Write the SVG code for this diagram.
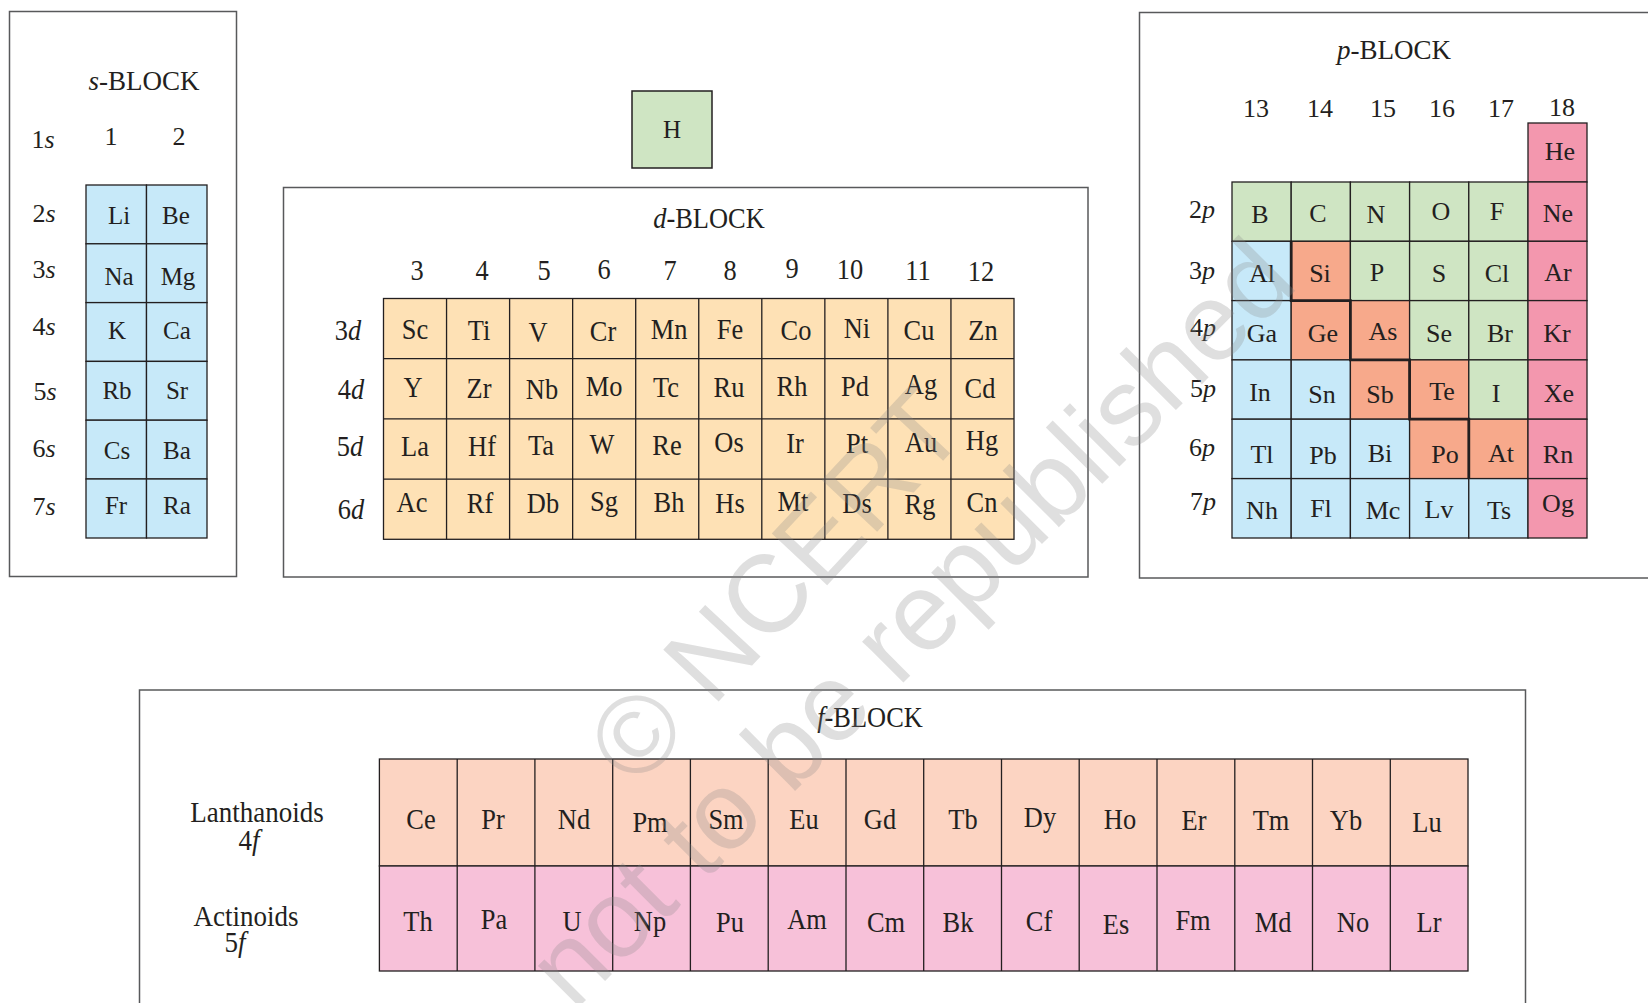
<svg xmlns="http://www.w3.org/2000/svg" width="1648" height="1003" viewBox="0 0 1648 1003">
<style>
text{font-family:"Liberation Serif","Times New Roman",serif;fill:#231f20}
.t{font-size:25px;text-anchor:middle}
.tp{font-size:26px;text-anchor:middle}
.c{font-size:30px;text-anchor:middle}
.lab{font-size:26px;text-anchor:middle}
.ttl{font-size:27px;text-anchor:middle}
.it{font-style:italic}
.box{fill:none;stroke:#58595b;stroke-width:1.5}
.cell rect{stroke:#231f20;stroke-width:1.3}
.sb{fill:#c7e9f9}
.gr{fill:#cfe5c3}
.dd{fill:#fee1b5}
.sa{fill:#f7a98b}
.pk{fill:#f397ae}
.la{fill:#fcd4c2}
.ac{fill:#f7c1d9}
.wm{font-family:"Liberation Sans",Arial,sans-serif;font-size:110px;fill:#8a8a8a;fill-opacity:.27;text-anchor:middle}
</style>

<!-- s-block -->
<g id="s-block">
<rect class="box" x="9.5" y="11.5" width="227" height="565"/>
<text class="ttl" x="144" y="90"><tspan class="it">s</tspan>-BLOCK</text>
<text class="lab" x="111" y="145">1</text>
<text class="lab" x="179" y="145">2</text>
<text class="lab" x="43" y="148">1<tspan class="it">s</tspan></text>
<text class="lab" x="44" y="222">2<tspan class="it">s</tspan></text>
<text class="lab" x="44" y="278">3<tspan class="it">s</tspan></text>
<text class="lab" x="44" y="335">4<tspan class="it">s</tspan></text>
<text class="lab" x="45" y="400">5<tspan class="it">s</tspan></text>
<text class="lab" x="44" y="457">6<tspan class="it">s</tspan></text>
<text class="lab" x="44" y="515">7<tspan class="it">s</tspan></text>
<g class="cell">
<rect class="sb" x="86" y="185" width="60.5" height="58.8"/><rect class="sb" x="146.5" y="185" width="60.5" height="58.8"/>
<rect class="sb" x="86" y="243.8" width="60.5" height="58.8"/><rect class="sb" x="146.5" y="243.8" width="60.5" height="58.8"/>
<rect class="sb" x="86" y="302.6" width="60.5" height="58.8"/><rect class="sb" x="146.5" y="302.6" width="60.5" height="58.8"/>
<rect class="sb" x="86" y="361.4" width="60.5" height="58.8"/><rect class="sb" x="146.5" y="361.4" width="60.5" height="58.8"/>
<rect class="sb" x="86" y="420.2" width="60.5" height="58.8"/><rect class="sb" x="146.5" y="420.2" width="60.5" height="58.8"/>
<rect class="sb" x="86" y="479" width="60.5" height="59"/><rect class="sb" x="146.5" y="479" width="60.5" height="59"/>
</g>
<text class="t" x="119" y="224">Li</text><text class="t" x="176" y="224">Be</text>
<text class="t" x="119" y="285">Na</text><text class="t" x="178" y="285">Mg</text>
<text class="t" x="117" y="339">K</text><text class="t" x="177" y="339">Ca</text>
<text class="t" x="117" y="399">Rb</text><text class="t" x="177" y="399">Sr</text>
<text class="t" x="117" y="459">Cs</text><text class="t" x="177" y="459">Ba</text>
<text class="t" x="116" y="514">Fr</text><text class="t" x="177" y="514">Ra</text>
</g>

<!-- H -->
<g id="H">
<rect class="gr" x="632" y="91" width="80" height="77" stroke="#231f20" stroke-width="1.5"/>
<text class="t" x="672" y="138">H</text>
</g>

<!-- d-block -->
<g id="d-block">
<rect class="box" x="283.5" y="187.5" width="804.5" height="389.5"/>
<text class="c" transform="translate(709,228) scale(.88,1)"><tspan class="it">d</tspan>-BLOCK</text>
<text class="c" transform="translate(417,280) scale(.88,1)">3</text>
<text class="c" transform="translate(482,280) scale(.88,1)">4</text>
<text class="c" transform="translate(544,280) scale(.88,1)">5</text>
<text class="c" transform="translate(604,279) scale(.88,1)">6</text>
<text class="c" transform="translate(670,280) scale(.88,1)">7</text>
<text class="c" transform="translate(730,280) scale(.88,1)">8</text>
<text class="c" transform="translate(792,278) scale(.88,1)">9</text>
<text class="c" transform="translate(850,279) scale(.88,1)">10</text>
<text class="c" transform="translate(918,280) scale(.88,1)">11</text>
<text class="c" transform="translate(981,281) scale(.88,1)">12</text>
<text class="c" transform="translate(348,340) scale(.88,1)">3<tspan class="it">d</tspan></text>
<text class="c" transform="translate(351,399) scale(.88,1)">4<tspan class="it">d</tspan></text>
<text class="c" transform="translate(350,456) scale(.88,1)">5<tspan class="it">d</tspan></text>
<text class="c" transform="translate(351,519) scale(.88,1)">6<tspan class="it">d</tspan></text>
<g class="cell">
<rect class="dd" x="383.5" y="298.5" width="630.5" height="240.8"/>
</g>
<g stroke="#231f20" stroke-width="1.3">
<path d="M446.55 298.5V539.3M509.6 298.5V539.3M572.65 298.5V539.3M635.7 298.5V539.3M698.75 298.5V539.3M761.8 298.5V539.3M824.85 298.5V539.3M887.9 298.5V539.3M950.95 298.5V539.3"/>
<path d="M383.5 358.7H1014M383.5 418.9H1014M383.5 479.1H1014"/>
</g>
<text class="c" transform="translate(415,339) scale(.88,1)">Sc</text>
<text class="c" transform="translate(479,340) scale(.88,1)">Ti</text>
<text class="c" transform="translate(538,342) scale(.88,1)">V</text>
<text class="c" transform="translate(603,341) scale(.88,1)">Cr</text>
<text class="c" transform="translate(669,339) scale(.88,1)">Mn</text>
<text class="c" transform="translate(730,339) scale(.88,1)">Fe</text>
<text class="c" transform="translate(796,340) scale(.88,1)">Co</text>
<text class="c" transform="translate(857,338) scale(.88,1)">Ni</text>
<text class="c" transform="translate(919,340) scale(.88,1)">Cu</text>
<text class="c" transform="translate(983,340) scale(.88,1)">Zn</text>
<text class="c" transform="translate(413,397) scale(.88,1)">Y</text>
<text class="c" transform="translate(479,398) scale(.88,1)">Zr</text>
<text class="c" transform="translate(542,399) scale(.88,1)">Nb</text>
<text class="c" transform="translate(604,396) scale(.88,1)">Mo</text>
<text class="c" transform="translate(666,397) scale(.88,1)">Tc</text>
<text class="c" transform="translate(729,397) scale(.88,1)">Ru</text>
<text class="c" transform="translate(792,396) scale(.88,1)">Rh</text>
<text class="c" transform="translate(855,396) scale(.88,1)">Pd</text>
<text class="c" transform="translate(921,394) scale(.88,1)">Ag</text>
<text class="c" transform="translate(980,398) scale(.88,1)">Cd</text>
<text class="c" transform="translate(415,456) scale(.88,1)">La</text>
<text class="c" transform="translate(482,456) scale(.88,1)">Hf</text>
<text class="c" transform="translate(541,455) scale(.88,1)">Ta</text>
<text class="c" transform="translate(602,454) scale(.88,1)">W</text>
<text class="c" transform="translate(667,455) scale(.88,1)">Re</text>
<text class="c" transform="translate(729,452) scale(.88,1)">Os</text>
<text class="c" transform="translate(795,453) scale(.88,1)">Ir</text>
<text class="c" transform="translate(857,453) scale(.88,1)">Pt</text>
<text class="c" transform="translate(921,452) scale(.88,1)">Au</text>
<text class="c" transform="translate(982,450) scale(.88,1)">Hg</text>
<text class="c" transform="translate(412,512) scale(.88,1)">Ac</text>
<text class="c" transform="translate(480,513) scale(.88,1)">Rf</text>
<text class="c" transform="translate(543,513) scale(.88,1)">Db</text>
<text class="c" transform="translate(604,511) scale(.88,1)">Sg</text>
<text class="c" transform="translate(669,512) scale(.88,1)">Bh</text>
<text class="c" transform="translate(730,513) scale(.88,1)">Hs</text>
<text class="c" transform="translate(793,511) scale(.88,1)">Mt</text>
<text class="c" transform="translate(857,513) scale(.88,1)">Ds</text>
<text class="c" transform="translate(920,514) scale(.88,1)">Rg</text>
<text class="c" transform="translate(982,512) scale(.88,1)">Cn</text>
</g>

<!-- p-block -->
<g id="p-block">
<rect class="box" x="1139.5" y="12.5" width="530" height="565.5"/>
<text class="ttl" x="1394" y="59"><tspan class="it">p</tspan>-BLOCK</text>
<text class="lab" x="1256" y="117">13</text>
<text class="lab" x="1320" y="117">14</text>
<text class="lab" x="1383" y="117">15</text>
<text class="lab" x="1442" y="117">16</text>
<text class="lab" x="1501" y="117">17</text>
<text class="lab" x="1562" y="116">18</text>
<text class="lab" x="1202" y="218">2<tspan class="it">p</tspan></text>
<text class="lab" x="1202" y="279">3<tspan class="it">p</tspan></text>
<text class="lab" x="1203" y="336">4<tspan class="it">p</tspan></text>
<text class="lab" x="1203" y="397">5<tspan class="it">p</tspan></text>
<text class="lab" x="1202" y="456">6<tspan class="it">p</tspan></text>
<text class="lab" x="1203" y="510">7<tspan class="it">p</tspan></text>
<g class="cell">
<rect class="pk" x="1528" y="123" width="59" height="59"/>
<rect class="gr" x="1232" y="182" width="59.2" height="59.3"/><rect class="gr" x="1291.2" y="182" width="59.2" height="59.3"/><rect class="gr" x="1350.4" y="182" width="59.2" height="59.3"/><rect class="gr" x="1409.6" y="182" width="59.2" height="59.3"/><rect class="gr" x="1468.8" y="182" width="59.2" height="59.3"/><rect class="pk" x="1528" y="182" width="59" height="59.3"/>
<rect class="sb" x="1232" y="241.3" width="59.2" height="59.3"/><rect class="sa" x="1291.2" y="241.3" width="59.2" height="59.3"/><rect class="gr" x="1350.4" y="241.3" width="59.2" height="59.3"/><rect class="gr" x="1409.6" y="241.3" width="59.2" height="59.3"/><rect class="gr" x="1468.8" y="241.3" width="59.2" height="59.3"/><rect class="pk" x="1528" y="241.3" width="59" height="59.3"/>
<rect class="sb" x="1232" y="300.6" width="59.2" height="59.3"/><rect class="sa" x="1291.2" y="300.6" width="59.2" height="59.3"/><rect class="sa" x="1350.4" y="300.6" width="59.2" height="59.3"/><rect class="gr" x="1409.6" y="300.6" width="59.2" height="59.3"/><rect class="gr" x="1468.8" y="300.6" width="59.2" height="59.3"/><rect class="pk" x="1528" y="300.6" width="59" height="59.3"/>
<rect class="sb" x="1232" y="359.9" width="59.2" height="59.3"/><rect class="sb" x="1291.2" y="359.9" width="59.2" height="59.3"/><rect class="sa" x="1350.4" y="359.9" width="59.2" height="59.3"/><rect class="sa" x="1409.6" y="359.9" width="59.2" height="59.3"/><rect class="gr" x="1468.8" y="359.9" width="59.2" height="59.3"/><rect class="pk" x="1528" y="359.9" width="59" height="59.3"/>
<rect class="sb" x="1232" y="419.2" width="59.2" height="59.4"/><rect class="sb" x="1291.2" y="419.2" width="59.2" height="59.4"/><rect class="sb" x="1350.4" y="419.2" width="59.2" height="59.4"/><rect class="sa" x="1409.6" y="419.2" width="59.2" height="59.4"/><rect class="sa" x="1468.8" y="419.2" width="59.2" height="59.4"/><rect class="pk" x="1528" y="419.2" width="59" height="59.4"/>
<rect class="sb" x="1232" y="478.6" width="59.2" height="59.4"/><rect class="sb" x="1291.2" y="478.6" width="59.2" height="59.4"/><rect class="sb" x="1350.4" y="478.6" width="59.2" height="59.4"/><rect class="sb" x="1409.6" y="478.6" width="59.2" height="59.4"/><rect class="sb" x="1468.8" y="478.6" width="59.2" height="59.4"/><rect class="pk" x="1528" y="478.6" width="59" height="59.4"/>
</g>
<path d="M1291.2 241.3V300.6H1350.4V359.9H1409.6V419.2H1468.8V478.6" fill="none" stroke="#231f20" stroke-width="2.8"/>
<text class="tp" x="1560" y="160">He</text>
<text class="tp" x="1260" y="223">B</text><text class="tp" x="1318" y="222">C</text><text class="tp" x="1376" y="223">N</text><text class="tp" x="1441" y="220">O</text><text class="tp" x="1497" y="220">F</text><text class="tp" x="1558" y="222">Ne</text>
<text class="tp" x="1262" y="282">Al</text><text class="tp" x="1320" y="282">Si</text><text class="tp" x="1377" y="281">P</text><text class="tp" x="1439" y="282">S</text><text class="tp" x="1497" y="282">Cl</text><text class="tp" x="1558" y="281">Ar</text>
<text class="tp" x="1262" y="342">Ga</text><text class="tp" x="1323" y="342">Ge</text><text class="tp" x="1383" y="340">As</text><text class="tp" x="1439" y="342">Se</text><text class="tp" x="1500" y="342">Br</text><text class="tp" x="1557" y="342">Kr</text>
<text class="tp" x="1260" y="401">In</text><text class="tp" x="1322" y="403">Sn</text><text class="tp" x="1380" y="403">Sb</text><text class="tp" x="1442" y="400">Te</text><text class="tp" x="1496" y="402">I</text><text class="tp" x="1559" y="402">Xe</text>
<text class="tp" x="1262" y="463">Tl</text><text class="tp" x="1323" y="464">Pb</text><text class="tp" x="1380" y="462">Bi</text><text class="tp" x="1445" y="463">Po</text><text class="tp" x="1501" y="462">At</text><text class="tp" x="1558" y="463">Rn</text>
<text class="tp" x="1262" y="519">Nh</text><text class="tp" x="1321" y="517">Fl</text><text class="tp" x="1383" y="519">Mc</text><text class="tp" x="1439" y="518">Lv</text><text class="tp" x="1499" y="519">Ts</text><text class="tp" x="1558" y="512">Og</text>
</g>

<!-- f-block -->
<g id="f-block">
<rect class="box" x="139.5" y="690" width="1386" height="330"/>
<text class="c" transform="translate(870,727) scale(.88,1)"><tspan class="it">f</tspan>-BLOCK</text>
<text class="c" transform="translate(257,822) scale(.9,1)">Lanthanoids</text>
<text class="c" transform="translate(249,850) scale(.9,1)">4<tspan class="it">f</tspan></text>
<text class="c" transform="translate(246,926) scale(.9,1)">Actinoids</text>
<text class="c" transform="translate(235,952) scale(.9,1)">5<tspan class="it">f</tspan></text>
<g class="cell">
<rect class="la" x="379.4" y="759" width="1088.6" height="107"/>
<rect class="ac" x="379.4" y="866" width="1088.6" height="105"/>
</g>
<path stroke="#231f20" stroke-width="1.3" d="M457.2 759V971M534.9 759V971M612.7 759V971M690.4 759V971M768.2 759V971M846 759V971M923.7 759V971M1001.5 759V971M1079.2 759V971M1157 759V971M1234.8 759V971M1312.5 759V971M1390.3 759V971"/>
<text class="c" transform="translate(421,829) scale(.88,1)">Ce</text>
<text class="c" transform="translate(493,829) scale(.88,1)">Pr</text>
<text class="c" transform="translate(574,829) scale(.88,1)">Nd</text>
<text class="c" transform="translate(650,832) scale(.88,1)">Pm</text>
<text class="c" transform="translate(726,829) scale(.88,1)">Sm</text>
<text class="c" transform="translate(804,829) scale(.88,1)">Eu</text>
<text class="c" transform="translate(880,829) scale(.88,1)">Gd</text>
<text class="c" transform="translate(963,829) scale(.88,1)">Tb</text>
<text class="c" transform="translate(1040,827) scale(.88,1)">Dy</text>
<text class="c" transform="translate(1120,829) scale(.88,1)">Ho</text>
<text class="c" transform="translate(1194,830) scale(.88,1)">Er</text>
<text class="c" transform="translate(1271,830) scale(.88,1)">Tm</text>
<text class="c" transform="translate(1346,830) scale(.88,1)">Yb</text>
<text class="c" transform="translate(1427,832) scale(.88,1)">Lu</text>
<text class="c" transform="translate(418,931) scale(.88,1)">Th</text>
<text class="c" transform="translate(494,929) scale(.88,1)">Pa</text>
<text class="c" transform="translate(572,931) scale(.88,1)">U</text>
<text class="c" transform="translate(650,931) scale(.88,1)">Np</text>
<text class="c" transform="translate(730,932) scale(.88,1)">Pu</text>
<text class="c" transform="translate(807,929) scale(.88,1)">Am</text>
<text class="c" transform="translate(886,932) scale(.88,1)">Cm</text>
<text class="c" transform="translate(958,932) scale(.88,1)">Bk</text>
<text class="c" transform="translate(1039,931) scale(.88,1)">Cf</text>
<text class="c" transform="translate(1116,934) scale(.88,1)">Es</text>
<text class="c" transform="translate(1193,930) scale(.88,1)">Fm</text>
<text class="c" transform="translate(1273,932) scale(.88,1)">Md</text>
<text class="c" transform="translate(1353,932) scale(.88,1)">No</text>
<text class="c" transform="translate(1429,932) scale(.88,1)">Lr</text>
</g>

<!-- watermark -->
<g id="watermark">
<text class="wm" transform="translate(803,611) rotate(-47)">© NCERT</text>
<text class="wm" transform="translate(937,649) rotate(-45)">not to be republished</text>
</g>
</svg>
